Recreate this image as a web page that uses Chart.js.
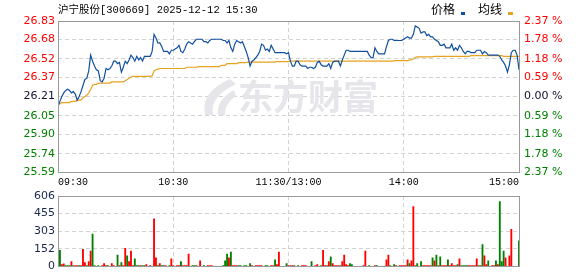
<!DOCTYPE html>
<html>
<head>
<meta charset="utf-8">
<script src="https://cdn.jsdelivr.net/npm/chart.js@4.4.1/dist/chart.umd.min.js"></script>
<style>
body { margin: 0; background: #fff; }
#wrap { position: relative; width: 578px; height: 276px; overflow: hidden; }
#priceCanvas { position: absolute; left: 0; top: 0; }
#volCanvas { position: absolute; left: 0; top: 186px; }
</style>
</head>
<body>
<div id="wrap">
	<canvas id="priceCanvas" width="578" height="192"></canvas>
	<canvas id="volCanvas" width="578" height="90"></canvas>
</div>
<script>
var stockTitle = "沪宁股份[300669] 2025-12-12 15:30";
var prevClose = 26.21;
var timeLabels = ["09:30", "10:30", "11:30/13:00", "14:00", "15:00"];
var priceTicks = [25.59, 25.74, 25.90, 26.05, 26.21, 26.37, 26.52, 26.68, 26.83];
var pctLabels = ["2.37 %", "1.78 %", "1.18 %", "0.59 %", "0.00 %", "0.59 %", "1.18 %", "1.78 %", "2.37 %"];
var volTicks = [0, 152, 303, 455, 606];

// one value per minute, 09:30 .. 15:00 (241)
var prices = [
	26.13, 26.17, 26.21, 26.24, 26.26, 26.27, 26.26, 26.24, 26.25, 26.23,
	26.18, 26.21, 26.25, 26.30, 26.35, 26.36, 26.42, 26.55, 26.50, 26.46,
	26.43, 26.42, 26.34, 26.33, 26.36, 26.44, 26.43, 26.44, 26.46, 26.50,
	26.50, 26.48, 26.49, 26.41, 26.45, 26.50, 26.48, 26.51, 26.55, 26.53,
	26.50, 26.54, 26.51, 26.53, 26.50, 26.54, 26.54, 26.54, 26.54, 26.58,
	26.72, 26.69, 26.65, 26.65, 26.62, 26.58, 26.58, 26.58, 26.56, 26.59,
	26.59, 26.60, 26.61, 26.63, 26.58, 26.57, 26.60, 26.64, 26.66, 26.65,
	26.64, 26.66, 26.68, 26.68, 26.68, 26.68, 26.66, 26.66, 26.65, 26.67,
	26.68, 26.68, 26.68, 26.68, 26.68, 26.68, 26.67, 26.67, 26.65, 26.67,
	26.61, 26.58, 26.64, 26.67, 26.66, 26.65, 26.66, 26.62, 26.58, 26.53,
	26.46, 26.50, 26.51, 26.53, 26.55, 26.58, 26.64, 26.63, 26.59, 26.60,
	26.58, 26.63, 26.60, 26.57, 26.57, 26.57, 26.57, 26.57, 26.57, 26.56,
	26.57, 26.50, 26.46, 26.46, 26.50, 26.50, 26.47, 26.46, 26.46, 26.46,
	26.44, 26.45, 26.45, 26.44, 26.45, 26.49, 26.50, 26.47, 26.46, 26.46,
	26.46, 26.48, 26.44, 26.49, 26.50, 26.50, 26.50, 26.46, 26.51, 26.55,
	26.59, 26.59, 26.58, 26.58, 26.58, 26.58, 26.58, 26.58, 26.58, 26.58,
	26.58, 26.58, 26.55, 26.53, 26.53, 26.61, 26.58, 26.56, 26.56, 26.56,
	26.56, 26.62, 26.67, 26.68, 26.68, 26.67, 26.67, 26.67, 26.67, 26.67,
	26.68, 26.69, 26.70, 26.69, 26.69, 26.72, 26.79, 26.78, 26.77, 26.73,
	26.74, 26.74, 26.71, 26.72, 26.70, 26.70, 26.68, 26.67, 26.66, 26.63,
	26.63, 26.64, 26.61, 26.61, 26.61, 26.64, 26.59, 26.61, 26.59, 26.63,
	26.61, 26.58, 26.56, 26.58, 26.58, 26.57, 26.57, 26.57, 26.59, 26.59,
	26.59, 26.56, 26.58, 26.57, 26.55, 26.55, 26.55, 26.55, 26.55, 26.55,
	26.54, 26.51, 26.49, 26.46, 26.41, 26.47, 26.57, 26.59, 26.59, 26.55,
	26.43
];

var avgPrices = [
	26.15, 26.15, 26.16, 26.16, 26.16, 26.16, 26.16, 26.17, 26.17, 26.17,
	26.18, 26.18, 26.18, 26.20, 26.21, 26.22, 26.24, 26.27, 26.30, 26.31,
	26.31, 26.32, 26.32, 26.32, 26.32, 26.32, 26.32, 26.32, 26.33, 26.33,
	26.33, 26.33, 26.33, 26.33, 26.33, 26.34, 26.35, 26.36, 26.37, 26.375,
	26.375, 26.375, 26.375, 26.375, 26.375, 26.375, 26.375, 26.375, 26.375, 26.38,
	26.42, 26.43, 26.435, 26.44, 26.44, 26.44, 26.44, 26.44, 26.44, 26.44,
	26.44, 26.44, 26.44, 26.44, 26.44, 26.44, 26.44, 26.45, 26.45, 26.45,
	26.45, 26.45, 26.45, 26.455, 26.455, 26.455, 26.455, 26.455, 26.455, 26.455,
	26.455, 26.455, 26.455, 26.455, 26.455, 26.465, 26.465, 26.465, 26.48, 26.48,
	26.48, 26.48, 26.48, 26.48, 26.488, 26.488, 26.488, 26.488, 26.488, 26.492,
	26.492, 26.492, 26.492, 26.492, 26.492, 26.492, 26.492, 26.492, 26.492, 26.492,
	26.492, 26.492, 26.492, 26.492, 26.497, 26.497, 26.497, 26.497, 26.497, 26.497,
	26.497, 26.50, 26.50, 26.50, 26.50, 26.50, 26.50, 26.50, 26.50, 26.50,
	26.50, 26.50, 26.50, 26.50, 26.50, 26.50, 26.50, 26.50, 26.50, 26.50,
	26.50, 26.50, 26.50, 26.50, 26.50, 26.50, 26.50, 26.50, 26.50, 26.50,
	26.50, 26.50, 26.50, 26.50, 26.50, 26.50, 26.50, 26.50, 26.50, 26.50,
	26.50, 26.50, 26.50, 26.50, 26.50, 26.50, 26.50, 26.50, 26.50, 26.50,
	26.50, 26.50, 26.50, 26.50, 26.50, 26.505, 26.505, 26.505, 26.505, 26.505,
	26.505, 26.505, 26.505, 26.51, 26.51, 26.52, 26.53, 26.535, 26.535, 26.535,
	26.535, 26.535, 26.535, 26.535, 26.535, 26.535, 26.54, 26.54, 26.54, 26.54,
	26.54, 26.54, 26.54, 26.54, 26.54, 26.54, 26.54, 26.54, 26.54, 26.54,
	26.54, 26.54, 26.54, 26.54, 26.54, 26.545, 26.545, 26.545, 26.545, 26.545,
	26.545, 26.545, 26.545, 26.545, 26.545, 26.545, 26.545, 26.545, 26.545, 26.545,
	26.545, 26.545, 26.54, 26.54, 26.54, 26.54, 26.54, 26.54, 26.54, 26.54,
	26.54
];

var volumes = [
	0, 139, 16, 22, 8, 8, 8, 41, 8, 8,
	8, 8, 8, 147, 33, 8, 41, 131, 278, 8,
	0, 8, 0, 8, 25, 8, 8, 0, 25, 8,
	0, 98, 8, 33, 8, 156, 90, 41, 131, 8,
	66, 8, 8, 8, 8, 8, 16, 0, 8, 0,
	410, 74, 8, 25, 8, 8, 8, 0, 8, 66,
	8, 0, 8, 8, 41, 8, 8, 8, 106, 0,
	8, 8, 8, 0, 49, 0, 8, 0, 8, 8,
	8, 0, 0, 0, 0, 0, 8, 49, 106, 74,
	123, 8, 8, 8, 8, 8, 0, 8, 8, 0,
	25, 8, 0, 8, 8, 8, 8, 0, 8, 8,
	0, 8, 8, 57, 16, 123, 0, 0, 0, 25,
	8, 8, 8, 8, 0, 8, 0, 8, 8, 8,
	0, 0, 41, 0, 8, 16, 0, 8, 139, 8,
	8, 41, 82, 25, 8, 8, 8, 8, 41, 98,
	16, 8, 25, 16, 0, 0, 0, 0, 0, 8,
	131, 0, 8, 0, 0, 8, 8, 0, 0, 0,
	0, 57, 98, 8, 0, 16, 8, 0, 8, 8,
	8, 8, 57, 25, 49, 516, 8, 25, 0, 41,
	8, 8, 8, 8, 8, 74, 49, 98, 8, 82,
	8, 8, 8, 57, 8, 25, 8, 8, 16, 66,
	8, 8, 8, 8, 8, 8, 8, 8, 66, 8,
	8, 188, 90, 16, 49, 0, 8, 8, 49, 16,
	557, 41, 131, 74, 0, 90, 319, 0, 0, 0,
	221
];

// u = up (red), d = down (green), - = no trade
var volSide = ("-duudddudu uduuuduudd -d-uuud-uu -duduuduuu ddduddu-u- " +
	"uududdu-du u-uuduuuu- ddu-u-d-uu u-----dddu duuudd-dd- " +
	"du-uuuu-dd -uuduu---d uudu-d-uuu --d-uu-duu uuduuuuduu " +
	"uudd-----u u-d--ud--- -uud-du-uu uuuduuud-d uuuuududud " +
	"uuuduuuudu dddduuuuud uduud-uudu dddu-uu--- d").replace(/ /g, "");

var RED = "#ff0000";
var GREEN = "#008000";
var GRID = "#d2d2d2";

function xGridColor(c) {
	if (c.tick && c.tick.value > 0 && c.tick.value < 240) return GRID;
	return "rgba(0,0,0,0)";
}

var framePlugin = {
	id: "frame",
	afterDraw: function(chart) {
		var a = chart.chartArea;
		var ctx = chart.ctx;
		ctx.save();
		ctx.strokeStyle = "#999999";
		ctx.lineWidth = 1;
		ctx.strokeRect(Math.round(a.left) + 0.5, Math.round(a.top) + 0.5,
			Math.round(a.right - a.left), Math.round(a.bottom - a.top));
		ctx.restore();
	}
};

var headerPlugin = {
	id: "header",
	beforeDatasetsDraw: function(chart) {
		var ctx = chart.ctx;
		ctx.save();
		ctx.fillStyle = "#e5e5ea";
		// logo swoosh
		ctx.beginPath();
		ctx.moveTo(230, 79);
		ctx.quadraticCurveTo(200, 92, 205, 115);
		ctx.lineTo(213, 115);
		ctx.quadraticCurveTo(209, 97, 236, 84);
		ctx.closePath();
		ctx.fill();
		ctx.beginPath();
		ctx.moveTo(234, 90);
		ctx.quadraticCurveTo(216, 100, 218, 115);
		ctx.lineTo(225, 115);
		ctx.quadraticCurveTo(224, 104, 236, 96);
		ctx.closePath();
		ctx.fill();
		ctx.font = "bold 35px 'Noto Sans CJK SC'";
		ctx.textBaseline = "middle";
		ctx.fillText("东方财富", 238, 97);
		ctx.restore();
	},
	afterDraw: function(chart) {
		var ctx = chart.ctx;
		ctx.save();
		ctx.textBaseline = "middle";
		ctx.fillStyle = "#000";
		ctx.font = "10.5px 'Liberation Mono', 'Noto Sans CJK SC'";
		ctx.fillText(stockTitle, 58, 10);
		ctx.font = "12px 'Noto Sans CJK SC'";
		ctx.fillText("价格", 431, 9);
		ctx.fillText("均线", 478, 9);
		ctx.fillStyle = "#1150a0";
		ctx.fillRect(461, 12, 4, 3);
		ctx.fillStyle = "#e6a31e";
		ctx.fillRect(508, 12, 5, 3);
		ctx.restore();
	}
};

function priceTickColor(c) {
	if (c.index > 4) return RED;
	if (c.index < 4) return GREEN;
	return "#101030";
}

var priceChart = new Chart(document.getElementById("priceCanvas"), {
	type: "line",
	data: {
		datasets: [
			{
				label: "价格",
				data: prices.map(function(v, i) { return { x: i, y: v }; }),
				borderColor: "#1150a0",
				borderWidth: 1.2,
				pointRadius: 0,
				tension: 0,
				yAxisID: "y"
			},
			{
				label: "均线",
				data: avgPrices.map(function(v, i) { return { x: i, y: v }; }),
				borderColor: "#e6a31e",
				borderWidth: 1.2,
				pointRadius: 0,
				tension: 0,
				yAxisID: "y"
			}
		]
	},
	options: {
		responsive: false,
		animation: false,
		events: [],
		devicePixelRatio: 1,
		layout: { padding: { top: 21, left: 0, right: 0, bottom: 0 } },
		plugins: { legend: { display: false }, tooltip: { enabled: false } },
		scales: {
			x: {
				type: "linear",
				min: 0,
				max: 240,
				afterBuildTicks: function(s) {
					s.ticks = [0, 60, 120, 180, 240].map(function(v) { return { value: v }; });
				},
				afterFit: function(s) { s.height = 20; },
				ticks: {
					autoSkip: false,
					maxRotation: 0,
					align: "inner",
					padding: 4,
					color: "#000",
					font: { family: "'Liberation Mono'", size: 10 },
					callback: function(v) { return timeLabels[v / 60]; }
				},
				grid: { color: xGridColor, drawTicks: false },
				border: { display: false, dash: [4, 3] }
			},
			y: {
				position: "left",
				min: 25.59,
				max: 26.83,
				afterBuildTicks: function(s) {
					s.ticks = priceTicks.map(function(v) { return { value: v }; });
				},
				afterFit: function(s) { s.width = 58; },
				ticks: {
					autoSkip: false,
					padding: 3,
					color: priceTickColor,
					font: { family: "'DejaVu Sans'", size: 11 },
					callback: function(v) { return v.toFixed(2); }
				},
				grid: { color: GRID, drawTicks: false },
				border: { display: false, dash: [4, 3] }
			},
			y2: {
				position: "right",
				min: 25.59,
				max: 26.83,
				afterBuildTicks: function(s) {
					s.ticks = priceTicks.map(function(v) { return { value: v }; });
				},
				afterFit: function(s) { s.width = 59; },
				ticks: {
					autoSkip: false,
					padding: 5,
					color: priceTickColor,
					font: { family: "'DejaVu Sans'", size: 11 },
					callback: function(v, i) { return pctLabels[i]; }
				},
				grid: { display: false, drawTicks: false },
				border: { display: false }
			}
		}
	},
	plugins: [headerPlugin, framePlugin]
});

var volChart = new Chart(document.getElementById("volCanvas"), {
	type: "bar",
	data: {
		datasets: [{
			label: "成交量",
			data: volumes.map(function(v, i) { return { x: i, y: v }; }),
			backgroundColor: volumes.map(function(v, i) { return volSide[i] == "d" ? GREEN : RED; }),
			barThickness: 1.2,
			borderWidth: 0
		}]
	},
	options: {
		responsive: false,
		animation: false,
		events: [],
		devicePixelRatio: 1,
		layout: { padding: { top: 10, left: 0, right: 59, bottom: 6 } },
		plugins: { legend: { display: false }, tooltip: { enabled: false } },
		scales: {
			x: {
				type: "linear",
				min: 0,
				max: 240,
				offset: false,
				afterBuildTicks: function(s) {
					s.ticks = [0, 60, 120, 180, 240].map(function(v) { return { value: v }; });
				},
				afterFit: function(s) { s.height = 0; },
				ticks: { display: false },
				grid: { color: xGridColor, drawTicks: false, offset: false },
				border: { display: false, dash: [4, 3] }
			},
			y: {
				min: 0,
				max: 606,
				afterBuildTicks: function(s) {
					s.ticks = volTicks.map(function(v) { return { value: v }; });
				},
				afterFit: function(s) { s.width = 58; },
				ticks: {
					autoSkip: false,
					padding: 3,
					color: "#1a2850",
					font: { family: "'DejaVu Sans'", size: 11 }
				},
				grid: { color: GRID, drawTicks: false },
				border: { display: false, dash: [4, 3] }
			}
		}
	},
	plugins: [framePlugin]
});
</script>
</body>
</html>
